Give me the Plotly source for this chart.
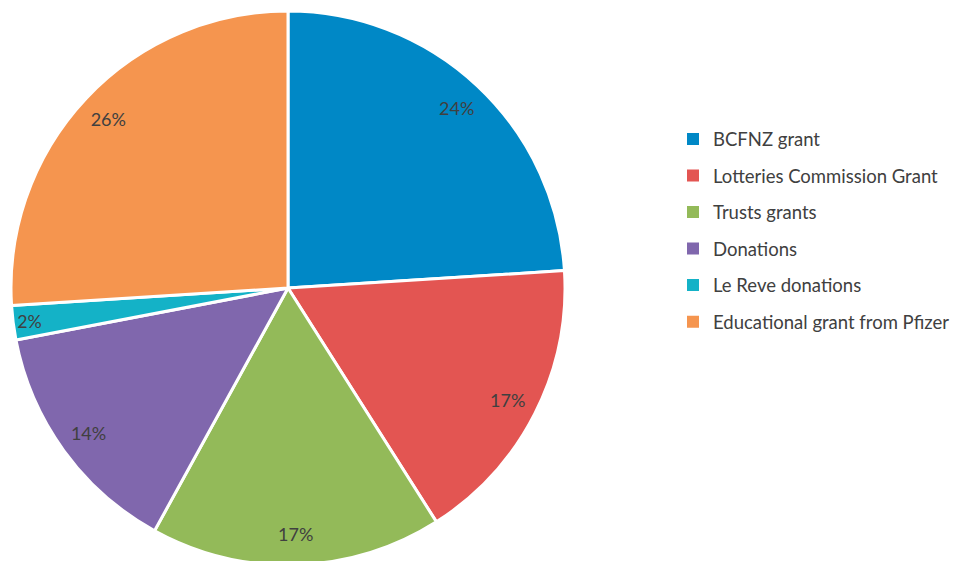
import plotly.graph_objects as go

categories = ["BCFNZ grant", "Lotteries Commission Grant", "Trusts grants",
              "Donations", "Le Reve donations", "Educational grant from Pfizer"]
values = [24, 17, 17, 14, 2, 26]
colors = ["#0088C6", "#E35552", "#93BA59", "#8067AD", "#14B2C7", "#F5954F"]

W, H = 965, 561
T, B = 3, 4
pie_dom = dict(x=[3 / W, 557 / W], y=[0, 1])

fig = go.Figure()
# main pie (colored slices)
fig.add_trace(go.Pie(
    labels=categories, values=values, sort=False, direction="clockwise",
    rotation=0,
    marker=dict(colors=colors, line=dict(color="white", width=3)),
    textinfo="none", hoverinfo="label+percent",
    domain=pie_dom, showlegend=False,
))
# transparent ring carrying the percentage labels near the outer edge
fig.add_trace(go.Pie(
    labels=categories, values=values, sort=False, direction="clockwise",
    rotation=0, hole=0.78,
    marker=dict(colors=["rgba(0,0,0,0)"] * len(values), line=dict(width=0)),
    texttemplate="%{percent:.0%}", textposition="inside",
    insidetextorientation="horizontal",
    textfont=dict(family="Lato", size=18, color="#404040"),
    hoverinfo="skip", domain=pie_dom, showlegend=False,
))
for c, col in zip(categories, colors):
    fig.add_trace(go.Scatter(
        x=[None], y=[None], mode="markers", name=c, legendgroup=c,
        marker=dict(symbol="square", size=8, color=col),
    ))
fig.update_layout(
    width=W, height=H, margin=dict(l=0, r=0, t=T, b=B),
    paper_bgcolor="white", plot_bgcolor="white",
    xaxis=dict(visible=False), yaxis=dict(visible=False),
    legend=dict(x=665 / W, xanchor="left", y=0.604, yanchor="middle",
                font=dict(family="Lato", size=18.5, color="#404040"),
                tracegroupgap=9.5, itemsizing="constant"),
)
fig.write_html("out.html")
